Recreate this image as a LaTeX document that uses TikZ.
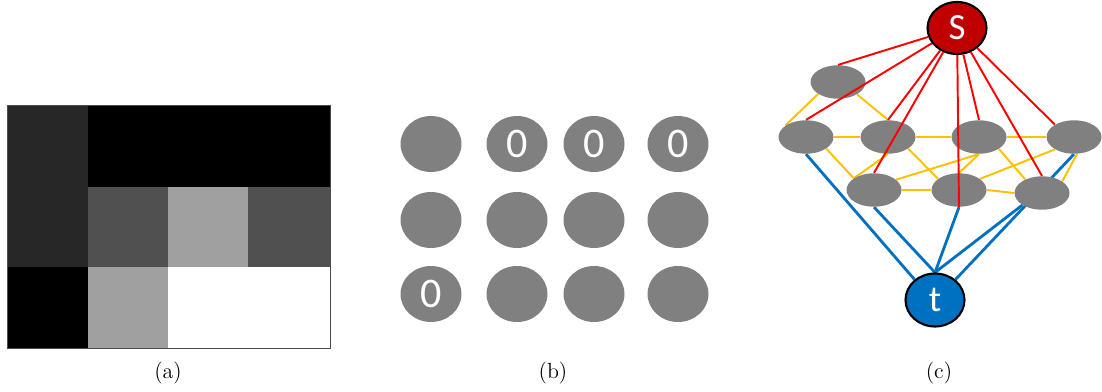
\documentclass[tikz,border=0pt]{standalone}
\usepackage{fontspec}
\newfontfamily\calfont{Carlito}
\usetikzlibrary{positioning,shapes.geometric,backgrounds}
\definecolor{darkpix}{HTML}{272727}
\definecolor{midpix}{HTML}{505050}
\definecolor{lightpix}{HTML}{A0A0A0}
\definecolor{blobgray}{HTML}{808080}
\definecolor{srcred}{HTML}{C00000}
\definecolor{sinkblue}{HTML}{0070C0}
\definecolor{linkred}{HTML}{FF0000}
\definecolor{linkgold}{HTML}{FFC000}
\tikzset{
  blob/.style={ellipse, fill=blobgray, minimum width=1.22cm, minimum height=1.12cm, inner sep=0pt, text=white, font=\calfont\fontsize{24}{24}\selectfont},
  vertex/.style={ellipse, fill=blobgray, minimum width=1.1cm, minimum height=0.67cm, inner sep=0pt},
  source/.style={ellipse, draw=black, line width=1.2pt, fill=srcred, minimum width=1.18cm, minimum height=1.04cm, inner sep=0pt, text=white, font=\calfont\fontsize{21}{21}\selectfont},
  sink/.style={ellipse, draw=black, line width=1.2pt, fill=sinkblue, minimum width=1.18cm, minimum height=1.06cm, inner sep=0pt, text=white, font=\calfont\fontsize{21}{21}\selectfont},
  redlink/.style={draw=linkred, line width=1.1pt},
  goldlink/.style={draw=linkgold, line width=1.1pt},
  bluelink/.style={draw=sinkblue, line width=1.6pt},
  caption/.style={font=\fontsize{12.5}{15}\selectfont}
}
\begin{document}
\begin{tikzpicture}[x=0.02cm, y=-0.02cm]
  \useasboundingbox (0,0) rectangle (1102,392);
  % (a) pixel image
  \fill[black] (7,105) rectangle (330,348);
  \fill[darkpix] (7,105) rectangle (88,267);
  \fill[midpix] (88,187) rectangle (168,267);
  \fill[lightpix] (168,187) rectangle (248,267);
  \fill[midpix] (248,187) rectangle (330,267);
  \fill[lightpix] (88,267) rectangle (168,348);
  \fill[white] (168,267) rectangle (330,348);
  \draw[black!70, line width=0.5pt] (7,105) rectangle (330,348);
  \node[caption] (capa) at (168,373) {(a)};

  % (b) labelled grid
  \node[blob] (z11) at (431,144) {};
  \node[blob] (z12) at (517,144) {0};
  \node[blob] (z13) at (594,144) {0};
  \node[blob] (z14) at (678,144) {0};
  \node[blob] (z21) at (431,220) {};
  \node[blob] (z22) at (517,220) {};
  \node[blob] (z23) at (594,220) {};
  \node[blob] (z24) at (678,220) {};
  \node[blob] (z31) at (431,294) {0};
  \node[blob] (z32) at (517,294) {};
  \node[blob] (z33) at (594,294) {};
  \node[blob] (z34) at (678,294) {};
  \node[caption] (capb) at (553,373) {(b)};

  % (c) graph with source and sink
  \node[vertex] (n1) at (838,82) {};
  \node[vertex] (n2) at (806,137) {};
  \node[vertex] (n3) at (888,137) {};
  \node[vertex] (n4) at (979,137) {};
  \node[vertex] (n5) at (1074,137) {};
  \node[vertex] (n6) at (874,190) {};
  \node[vertex] (n7) at (959,190) {};
  \node[vertex] (n8) at (1042,193) {};
  \node[source] (s) at (957,28) {S};
  \node[sink] (t) at (935,300) {t};
  \node[caption] (capc) at (939,373) {(c)};

  \begin{scope}[on background layer]
    \draw[bluelink] (n2.south) -- (t.135);
    \draw[bluelink] (n6.south) -- (t.north);
    \draw[bluelink] (n7.south) -- (t.north);
    \draw[bluelink] (n8.south west) -- (t.north);
    \draw[bluelink] (n5.south) -- (t.45);
    \draw[goldlink] (n1.211) -- (n2.151);
    \draw[goldlink] (n1.327) -- (n3.north);
    \draw[goldlink] (n2.east) -- (n3.west);
    \draw[goldlink] (n2.330) -- (n6.150);
    \draw[goldlink] (n3.south) -- (n6.150);
    \draw[goldlink] (n3.east) -- (n4.west);
    \draw[goldlink] (n3.330) -- (n7.152);
    \draw[goldlink] (n6.east) -- (n7.west);
    \draw[goldlink] (n6.25) -- (n4.south);
    \draw[goldlink] (n4.south) -- (n7.north);
    \draw[goldlink] (n4.329) -- (n8.141);
    \draw[goldlink] (n4.east) -- (n5.west);
    \draw[goldlink] (n7.28) -- (n5.213);
    \draw[goldlink] (n7.east) -- (n8.west);
    \draw[goldlink] (n5.280) -- (n8.30);
  \end{scope}

  \draw[redlink] (s) -- (n1.north);
  \draw[redlink] (s) -- (n2.north);
  \draw[redlink] (s) -- (n3.north);
  \draw[redlink] (s) -- (n6.north);
  \draw[redlink] (s) -- (n7.south);
  \draw[redlink] (s) -- (n4.north);
  \draw[redlink] (s) -- (n8.north);
  \draw[redlink] (s) -- (n5.147);
\end{tikzpicture}
\end{document}
